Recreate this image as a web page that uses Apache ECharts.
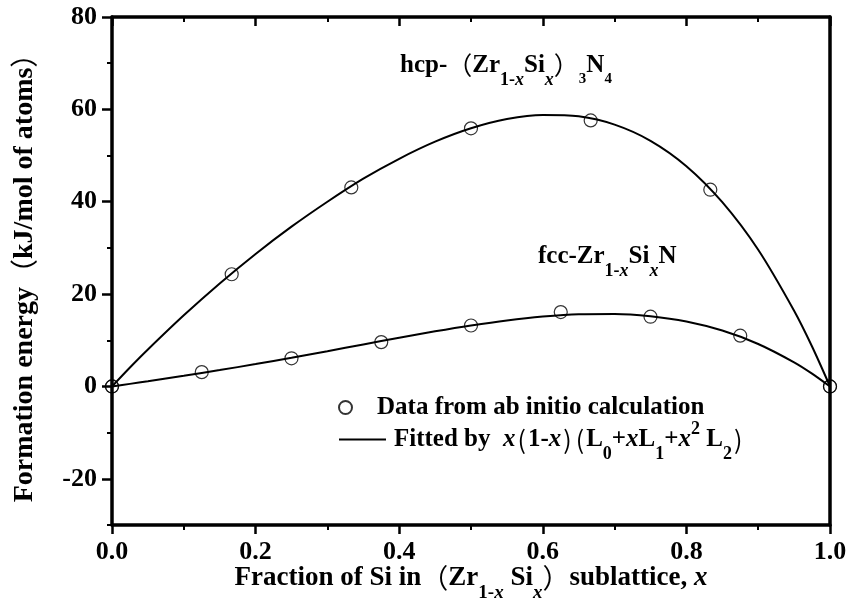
<!DOCTYPE html>
<html><head><meta charset="utf-8">
<script src="https://cdn.jsdelivr.net/npm/echarts@6/dist/echarts.min.js"></script>
<style>html,body{margin:0;padding:0;background:#fff}#c{width:851px;height:613px}</style>
</head><body><div id="c"></div>
<script>
// ---- data ----
const xTickValues = [0, 0.2, 0.4, 0.6, 0.8, 1.0];
const yTickValues = [-20, 0, 20, 40, 60, 80];
const yMinorTickValues = [-30, -10, 10, 30, 50, 70];

const hcpX = [0, 0.1667, 0.3333, 0.5, 0.6667, 0.8333, 1.0];
const hcpY = [0, 24.3, 43.1, 55.9, 57.6, 42.6, 0];

const fccX = [0, 0.125, 0.25, 0.375, 0.5, 0.625, 0.75, 0.875, 1.0];
const fccY = [0, 3.1, 6.1, 9.6, 13.2, 16.1, 15.1, 11.0, 0];

const fitX   = [0, 0.025, 0.05, 0.1, 0.15, 0.2, 0.25, 0.3, 0.35, 0.4, 0.45, 0.5, 0.55, 0.6, 0.65, 0.7, 0.75, 0.8, 0.85, 0.9, 0.95, 0.975, 1.0];
const hcpFit = [0, 4.1, 8.0, 15.4, 22.3, 28.7, 34.6, 40.0, 45.0, 49.3, 53.0, 55.9, 57.9, 58.8, 58.5, 56.7, 53.2, 47.7, 39.9, 29.6, 16.4, 8.65, 0];
const fccFit = [0, 0.56, 1.13, 2.30, 3.54, 4.85, 6.22, 7.64, 9.10, 10.54, 11.93, 13.2, 14.3, 15.14, 15.65, 15.71, 15.2, 14.06, 12.1, 9.2, 5.23, 2.78, 0];

const NAME_DATA = 'Data from ab initio calculation';
const NAME_FIT = 'Fitted by x(1-x)(L0+xL1+x2 L2)';

// ---- styles ----
const SERIF = '"Liberation Serif","Times New Roman",serif';
const CJK = '"Noto Sans CJK SC","Noto Sans CJK JP",sans-serif';
function makeRich(size) {
  const sub = Math.round(size * 0.7);
  const lh = Math.round(size * 1.25);
  const dn = Math.round(size * 1.15);
  const up = Math.round(size * 0.8);
  const base = {fontFamily: SERIF, fontWeight: 'bold', color: '#000'};
  return {
    b:  Object.assign({}, base, {fontSize: size, lineHeight: lh}),
    b0: Object.assign({}, base, {fontSize: size, lineHeight: lh, padding: [0, 0, 0, 3]}),
    i:  Object.assign({}, base, {fontStyle: 'italic', fontSize: size, lineHeight: lh}),
    p:  {fontFamily: CJK, fontWeight: 'normal', fontSize: size, lineHeight: lh, color: '#000'},
    q:  {fontFamily: CJK, fontWeight: 'normal', fontSize: size, lineHeight: lh, color: '#000', padding: [0, 2, 0, 2]},
    s:  Object.assign({}, base, {fontSize: sub, lineHeight: sub, padding: [dn, 0, 0, 0]}),
    si: Object.assign({}, base, {fontStyle: 'italic', fontSize: sub, lineHeight: sub, padding: [dn, 0, 0, 0]}),
    s2: Object.assign({}, base, {fontSize: sub - 3, lineHeight: sub, padding: [dn - 2, 0, 0, 0]}),
    u:  Object.assign({}, base, {fontSize: sub, lineHeight: sub, padding: [0, 0, up, 0]})
  };
}
const richL = makeRich(25);
const richX = makeRich(27);
const richY = makeRich(28);

const black = '#000';
const tickLabel = {fontFamily: SERIF, fontWeight: 'bold', fontSize: 26, color: black};

const chart = echarts.init(document.getElementById('c'), null, {renderer: 'canvas'});
chart.setOption({
  animation: false,
  backgroundColor: '#fff',
  grid: {left: 112, right: 21, top: 17, bottom: 88, containLabel: false, outerBoundsMode: 'none'},
  title: [
    {text: '{b|hcp-}{p|（}{b|Zr}{s|1-}{si|x}{b|Si}{si|x}{p|）}{s2|3}{b|N}{s2|4}',
     left: 400, top: 50, padding: 0, textStyle: {rich: richL}},
    {text: '{b|fcc-Zr}{s|1-}{si|x}{b|Si}{si|x}{b|N}',
     left: 538, top: 241, padding: 0, textStyle: {rich: richL}}
  ],
  legend: [
    {data: [NAME_DATA], orient: 'vertical', left: 338, top: 395, padding: 0,
     itemWidth: 47, itemHeight: 13, selectedMode: false,
     formatter: () => '{b0|Data from ab initio calculation}',
     textStyle: {rich: richL}},
    {data: [NAME_FIT], orient: 'vertical', left: 338, top: 416, padding: 0,
     itemWidth: 47, itemHeight: 13, selectedMode: false,
     itemStyle: {color: 'rgba(0,0,0,0)', borderColor: 'rgba(0,0,0,0)', borderWidth: 0},
     lineStyle: {color: black, width: 2},
     formatter: () => '{b0|Fitted by  }{i|x}{q|(}{b|1-}{i|x}{q|)}{q|(}{b|L}{s|0}{b|+}{i|x}{b|L}{s|1}{b|+}{i|x}{u|2}{b| L}{s|2}{q|)}',
     textStyle: {rich: richL}}
  ],
  xAxis: [
    {type: 'value', min: 0, max: 1, interval: 0.2, position: 'bottom',
     axisLine: {show: true, onZero: false, lineStyle: {color: black, width: 3.5}},
     axisTick: {show: true, length: 9, lineStyle: {color: black, width: 2.5}},
     minorTick: {show: true, splitNumber: 2, length: 5, lineStyle: {color: black, width: 2}},
     splitLine: {show: false}, minorSplitLine: {show: false},
     axisLabel: Object.assign({margin: 14, customValues: xTickValues, formatter: v => v.toFixed(1)}, tickLabel),
     name: '{b|Fraction of Si in}{p|（}{b|Zr}{s|1-}{si|x}{b| Si}{si|x}{p|）}{b|sublattice, }{i|x}',
     nameLocation: 'middle', nameGap: 36, nameMoveOverlap: false,
     nameTextStyle: {rich: richX}},
    {type: 'value', min: 0, max: 1, interval: 0.2, position: 'top',
     axisLine: {show: true, onZero: false, lineStyle: {color: black, width: 3.5}},
     axisTick: {show: true, inside: true, length: 9, lineStyle: {color: black, width: 2.5}},
     minorTick: {show: true, splitNumber: 2, length: 5, lineStyle: {color: black, width: 2}},
     splitLine: {show: false}, axisLabel: {show: false}}
  ],
  yAxis: [
    {type: 'value', min: -30, max: 80, position: 'left',
     axisLine: {show: true, onZero: false, lineStyle: {color: black, width: 3.5}},
     axisTick: {show: true, customValues: yTickValues, length: 10, lineStyle: {color: black, width: 2.5}},
     splitLine: {show: false},
     axisLabel: Object.assign({margin: 15, customValues: yTickValues}, tickLabel),
     name: '{b|Formation energy}{p|（}{b|kJ/mol of atoms}{p|）}',
     nameLocation: 'middle', nameGap: 70, nameRotate: 90, nameMoveOverlap: false,
     nameTextStyle: {rich: richY}},
    {type: 'value', min: -30, max: 80, position: 'left',
     axisLine: {show: false, onZero: false},
     axisTick: {show: true, customValues: yMinorTickValues, length: 5, lineStyle: {color: black, width: 2}},
     splitLine: {show: false}, axisLabel: {show: false}},
    {type: 'value', min: -30, max: 80, position: 'right',
     axisLine: {show: true, onZero: false, lineStyle: {color: black, width: 3.5}},
     axisTick: {show: false}, splitLine: {show: false}, axisLabel: {show: false}}
  ],
  series: [
    {type: 'line', name: NAME_FIT, xAxisIndex: 0, yAxisIndex: 0, smooth: 0.3,
     symbol: 'none', showSymbol: false, data: fitX.map((x, i) => [x, hcpFit[i]]),
     lineStyle: {color: black, width: 2}, itemStyle: {color: black}, z: 2},
    {type: 'line', name: NAME_FIT, xAxisIndex: 0, yAxisIndex: 0, smooth: 0.3,
     symbol: 'none', showSymbol: false, data: fitX.map((x, i) => [x, fccFit[i]]),
     lineStyle: {color: black, width: 2}, itemStyle: {color: black}, z: 2},
    {type: 'scatter', name: NAME_DATA, xAxisIndex: 0, yAxisIndex: 0, symbol: 'circle', symbolSize: 13,
     data: hcpX.map((x, i) => [x, hcpY[i]]),
     itemStyle: {color: 'rgba(0,0,0,0)', borderColor: black, borderWidth: 1.2}, z: 3},
    {type: 'scatter', name: NAME_DATA, xAxisIndex: 0, yAxisIndex: 0, symbol: 'circle', symbolSize: 13,
     data: fccX.map((x, i) => [x, fccY[i]]),
     itemStyle: {color: 'rgba(0,0,0,0)', borderColor: black, borderWidth: 1.2}, z: 3}
  ]
});
</script>
</body></html>
